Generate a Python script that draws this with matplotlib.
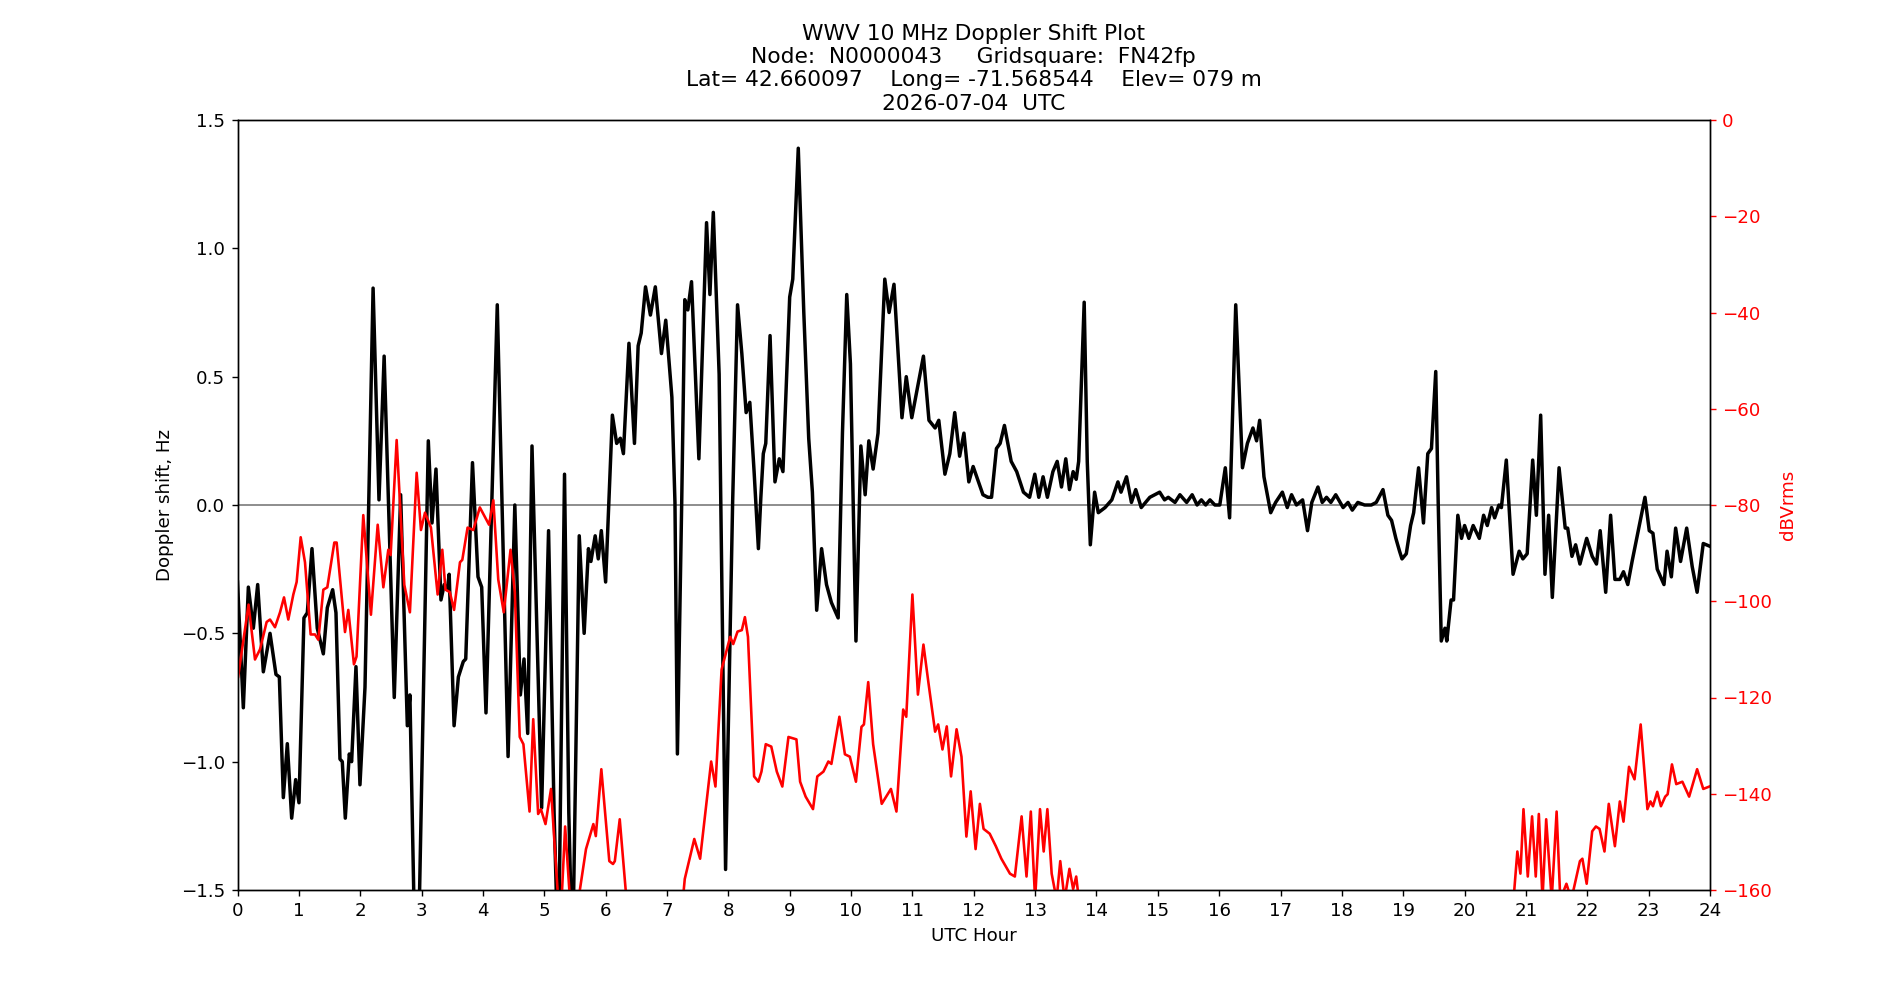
import matplotlib
matplotlib.use("Agg")
import matplotlib.pyplot as plt
import numpy as np

plt.rcParams["font.size"] = 10.5

# Doppler shift trace (UTC hour, Hz)
doppler_hours = [
    0.00, 0.095, 0.177, 0.258, 0.329, 0.421, 0.53, 0.627, 0.682, 0.747, 0.812, 0.883, 0.948, 1.002,
    1.083, 1.138, 1.214, 1.30, 1.399, 1.464, 1.551, 1.605, 1.67, 1.708, 1.757, 1.822, 1.86, 1.931,
    1.996, 2.078, 2.21, 2.306, 2.39, 2.555, 2.659, 2.768, 2.81, 2.88, 2.92, 2.96, 3.11, 3.17, 3.235,
    3.316, 3.37, 3.42, 3.45, 3.53, 3.60, 3.68, 3.72, 3.83, 3.92, 3.98, 4.05, 4.234, 4.41, 4.52, 4.61,
    4.67, 4.73, 4.80, 4.957, 5.07, 5.16, 5.23, 5.33, 5.40, 5.46, 5.57, 5.65, 5.72, 5.76, 5.83, 5.88,
    5.93, 6.00, 6.11, 6.18, 6.24, 6.29, 6.38, 6.47, 6.53, 6.58, 6.65, 6.73, 6.81, 6.91, 6.98, 7.08,
    7.13, 7.17, 7.24, 7.29, 7.34, 7.40, 7.52, 7.645, 7.70, 7.755, 7.85, 7.955, 8.07, 8.15, 8.22, 8.29,
    8.35, 8.42, 8.49, 8.53, 8.57, 8.61, 8.68, 8.76, 8.83, 8.89, 9.0, 9.05, 9.14, 9.23, 9.31, 9.37,
    9.44, 9.52, 9.60, 9.68, 9.79, 9.86, 9.93, 9.99, 10.08, 10.16, 10.23, 10.29, 10.36, 10.44, 10.55,
    10.62, 10.70, 10.83, 10.90, 10.99, 11.18, 11.27, 11.37, 11.43, 11.53, 11.61, 11.69, 11.77, 11.84,
    11.92, 11.99, 12.15, 12.23, 12.29, 12.37, 12.43, 12.50, 12.61, 12.70, 12.81, 12.91, 12.995, 13.06,
    13.13, 13.2, 13.29, 13.36, 13.43, 13.50, 13.56, 13.62, 13.67, 13.71, 13.80, 13.85, 13.90, 13.97,
    14.03, 14.14, 14.25, 14.35, 14.40, 14.49, 14.57, 14.64, 14.73, 14.87, 15.03, 15.11, 15.17, 15.28,
    15.36, 15.47, 15.56, 15.64, 15.71, 15.78, 15.85, 15.93, 16.01, 16.10, 16.17, 16.27, 16.38, 16.46,
    16.55, 16.61, 16.66, 16.73, 16.84, 16.92, 17.03, 17.11, 17.18, 17.26, 17.36, 17.44, 17.51, 17.61,
    17.68, 17.75, 17.82, 17.90, 18.02, 18.10, 18.17, 18.26, 18.37, 18.48, 18.56, 18.67, 18.75, 18.81,
    18.88, 18.94, 18.98, 19.05, 19.12, 19.17, 19.25, 19.33, 19.40, 19.46, 19.53, 19.57, 19.62, 19.68,
    19.71, 19.78, 19.82, 19.89, 19.95, 20.00, 20.07, 20.14, 20.24, 20.31, 20.37, 20.44, 20.49, 20.56,
    20.60, 20.68, 20.79, 20.89, 20.95, 21.02, 21.11, 21.17, 21.24, 21.31, 21.37, 21.43, 21.54, 21.64,
    21.68, 21.75, 21.81, 21.88, 21.99, 22.08, 22.15, 22.21, 22.30, 22.38, 22.45, 22.53, 22.59, 22.66,
    22.73, 22.83, 22.94, 23.01, 23.07, 23.14, 23.25, 23.30, 23.37, 23.44, 23.52, 23.62, 23.71, 23.79,
    23.89, 23.99,
]
doppler_hz = [
    -0.30, -0.79, -0.32, -0.48, -0.31, -0.65, -0.50, -0.66, -0.67, -1.14, -0.93, -1.22, -1.07, -1.16,
    -0.44, -0.42, -0.17, -0.48, -0.58, -0.40, -0.33, -0.42, -0.99, -1.00, -1.22, -0.97, -1.00, -0.63,
    -1.09, -0.71, 0.845, 0.02, 0.58, -0.75, 0.04, -0.86, -0.74, -1.6, -1.9, -1.6, 0.25, -0.07, 0.14,
    -0.37, -0.31, -0.33, -0.27, -0.86, -0.67, -0.61, -0.60, 0.165, -0.28, -0.32, -0.81, 0.78, -0.98, 0.0, -0.74,
    -0.60, -0.89, 0.23, -1.18, -0.10, -1.2, -1.8, 0.12, -1.2, -1.8, -0.12, -0.50, -0.17, -0.22, -0.12, -0.21,
    -0.10, -0.30, 0.35, 0.24, 0.26, 0.20, 0.63, 0.24, 0.62, 0.67, 0.85, 0.74, 0.85, 0.59, 0.72, 0.42,
    0.01, -0.97, 0.01, 0.80, 0.76, 0.87, 0.18, 1.10, 0.82, 1.14, 0.51, -1.42, 0.01, 0.78, 0.59, 0.36,
    0.40, 0.13, -0.17, 0.03, 0.20, 0.24, 0.66, 0.09, 0.18, 0.13, 0.81, 0.88, 1.39, 0.75, 0.26, 0.05,
    -0.41, -0.17, -0.31, -0.38, -0.44, 0.28, 0.82, 0.55, -0.53, 0.23, 0.04, 0.25, 0.14, 0.28, 0.88,
    0.75, 0.86, 0.34, 0.50, 0.34, 0.58, 0.33, 0.30, 0.33, 0.12, 0.20, 0.36, 0.19, 0.28,
    0.09, 0.15, 0.04, 0.03, 0.03, 0.22, 0.24, 0.31, 0.17, 0.13, 0.05, 0.03, 0.12, 0.03,
    0.11, 0.03, 0.13, 0.17, 0.07, 0.18, 0.06, 0.13, 0.10, 0.17, 0.79, 0.17, -0.155, 0.05,
    -0.03, -0.01, 0.02, 0.09, 0.05, 0.11, 0.01, 0.06, -0.01, 0.03, 0.05, 0.02, 0.03, 0.01,
    0.04, 0.01, 0.04, 0.0, 0.02, 0.0, 0.02, 0.0, 0.0, 0.145, -0.05, 0.78, 0.145, 0.24,
    0.30, 0.25, 0.33, 0.11, -0.03, 0.01, 0.05, -0.01, 0.04, 0.0, 0.02, -0.10, 0.01, 0.07,
    0.01, 0.03, 0.01, 0.04, -0.01, 0.01, -0.02, 0.01, 0.0, 0.0, 0.01, 0.06, -0.04, -0.06,
    -0.13, -0.18, -0.21, -0.19, -0.08, -0.03, 0.145, -0.07, 0.20, 0.22, 0.52, 0.01, -0.53, -0.48,
    -0.53, -0.37, -0.37, -0.04, -0.13, -0.08, -0.13, -0.08, -0.13, -0.04, -0.08, -0.01, -0.05, 0.0,
    -0.01, 0.175, -0.27, -0.18, -0.21, -0.19, 0.175, -0.04, 0.35, -0.27, -0.04, -0.36, 0.145, -0.09,
    -0.09, -0.20, -0.155, -0.23, -0.13, -0.20, -0.23, -0.10, -0.34, -0.04, -0.29, -0.29, -0.26, -0.31,
    -0.22, -0.10, 0.03, -0.10, -0.11, -0.25, -0.31, -0.18, -0.28, -0.09, -0.22, -0.09, -0.24, -0.34,
    -0.15, -0.16,
]

# Received power trace (UTC hour, dBVrms); values below -160 run off the axis
power_hours = [
    0.01, 0.18, 0.285, 0.367, 0.475, 0.53, 0.611, 0.693, 0.758, 0.828, 0.91, 0.964, 1.03, 1.10,
    1.192, 1.263, 1.317, 1.399, 1.464, 1.578, 1.616, 1.714, 1.752, 1.806, 1.898, 1.94, 2.05, 2.175,
    2.285, 2.377, 2.458, 2.496, 2.594, 2.719, 2.81, 2.92, 2.99, 3.056, 3.153, 3.262, 3.338, 3.39,
    3.46, 3.53, 3.626, 3.664, 3.75, 3.843, 3.95, 4.10, 4.17, 4.25, 4.34, 4.45, 4.52, 4.60, 4.66,
    4.76, 4.82, 4.90, 4.945, 5.02, 5.11, 5.21, 5.26, 5.34, 5.45, 5.58, 5.68, 5.80, 5.84, 5.93, 6.06,
    6.12, 6.15, 6.23, 6.34, 6.40, 7.20, 7.29, 7.445, 7.54, 7.72, 7.79, 7.89, 8.03, 8.08, 8.15, 8.22,
    8.27, 8.32, 8.42, 8.49, 8.54, 8.61, 8.70, 8.79, 8.88, 8.98, 9.11, 9.17, 9.26, 9.38, 9.45, 9.55,
    9.63, 9.68, 9.81, 9.90, 9.98, 10.08, 10.17, 10.21, 10.28, 10.36, 10.50, 10.65, 10.74, 10.85,
    10.90, 11.0, 11.09, 11.18, 11.26, 11.37, 11.42, 11.49, 11.56, 11.63, 11.72, 11.80, 11.88, 11.95,
    12.03, 12.10, 12.16, 12.26, 12.36, 12.45, 12.59, 12.67, 12.78, 12.86, 12.93, 13.0, 13.08, 13.14,
    13.2, 13.27, 13.35, 13.41, 13.48, 13.56, 13.62, 13.67, 13.74, 13.80, 20.75, 20.81, 20.86, 20.91,
    20.96, 21.03, 21.10, 21.16, 21.21, 21.27, 21.33, 21.42, 21.50, 21.56, 21.66, 21.74, 21.88, 21.92,
    21.99, 22.08, 22.14, 22.20, 22.28, 22.35, 22.45, 22.53, 22.59, 22.68, 22.77, 22.87, 22.98, 23.03,
    23.07, 23.14, 23.20, 23.27, 23.31, 23.38, 23.45, 23.55, 23.66, 23.79, 23.89, 23.99,
]
power_db = [
    -115.7, -100.7, -112.1, -110, -104.3, -103.8, -105.4, -102.3, -99.2, -103.8, -98.6, -96, -86.7, -91.9,
    -106.9, -106.9, -108, -97.6, -97.1, -87.8, -87.8, -101.2, -106.4, -101.8, -113.1, -111.5, -82.1, -102.8,
    -84.1, -97.1, -89.3, -90.4, -66.5, -96.6, -102.3, -73.3, -85.2, -81.6, -84.7, -98.6, -89.3, -97.6,
    -98.1, -101.8, -91.9, -91.4, -84.7, -85.2, -80.5, -84.1, -79, -95.5, -102.3, -89.3, -98.1, -128.2, -129.7,
    -143.7, -124.5, -144.2, -143.2, -146.3, -139, -158.7, -168, -146.8, -168, -160, -151.5, -146.3, -148.8, -134.9, -154,
    -154.6, -154, -145.3, -162, -170, -170, -157.7, -149.4, -153.5, -133.3, -138.5, -114.2, -107.4, -108.9, -106.3, -106,
    -103.3, -107.4, -136.4, -137.5, -135.4, -129.7, -130.2, -135.4, -138.5, -128.2, -128.7, -137.5, -140.6, -143.2, -136.4, -135.4,
    -133.3, -133.8, -124, -131.8, -132.3, -137.5, -126.1, -125.6, -116.8, -129.7, -142.1, -139, -143.7, -122.5,
    -124, -98.6, -119.4, -109, -116.8, -127.1, -125.6, -130.8, -126, -136.4, -126.6, -132.3, -148.9, -139.5,
    -151.5, -142.1, -147.3, -148.3, -150.9, -153.5, -156.6, -157.2, -144.7, -157.2, -143.7, -162, -143.2, -152,
    -143.2, -156.6, -162, -154, -162, -155.6, -159.8, -157.2, -165, -170, -170, -160, -152, -156.6,
    -143.2, -157.2, -144.7, -157.2, -144.2, -162, -145.3, -162, -143.7, -162, -158.7, -162, -154, -153.5,
    -158.7, -147.8, -146.8, -147.3, -152, -142.1, -150.9, -141.6, -145.8, -134.4, -137, -125.6, -143.2, -141.6,
    -142.6, -139.6, -142.6, -140.6, -140.1, -133.9, -138, -137.5, -140.6, -134.9, -139, -138.5,
]

title_lines = [
    "WWV 10 MHz Doppler Shift Plot",
    "Node:  N0000043     Gridsquare:  FN42fp",
    "Lat= 42.660097    Long= -71.568544    Elev= 079 m",
    "2026-07-04  UTC",
]

fig, ax = plt.subplots(figsize=(15.2, 8), dpi=125)
ax.axhline(0, color="grey", linewidth=1, zorder=1)
ax.plot(doppler_hours, doppler_hz, color="black", linewidth=2, zorder=2)
ax.set_xlim(0, 24)
ax.set_ylim(-1.5, 1.5)
ax.set_xticks(np.arange(0, 25, 1))
ax.set_yticks([-1.5, -1.0, -0.5, 0.0, 0.5, 1.0, 1.5])
ax.set_xlabel("UTC Hour")
ax.set_ylabel("Doppler shift, Hz")
ax.set_title("\n".join(title_lines), fontsize=12.5)

ax2 = ax.twinx()
ax2.plot(power_hours, power_db, color="red", linewidth=1.5)
ax2.set_ylim(-160, 0)
ax2.set_ylabel("dBVrms", color="red")
ax2.tick_params(axis="y", colors="red")

fig.savefig("out.png", dpi=125)
